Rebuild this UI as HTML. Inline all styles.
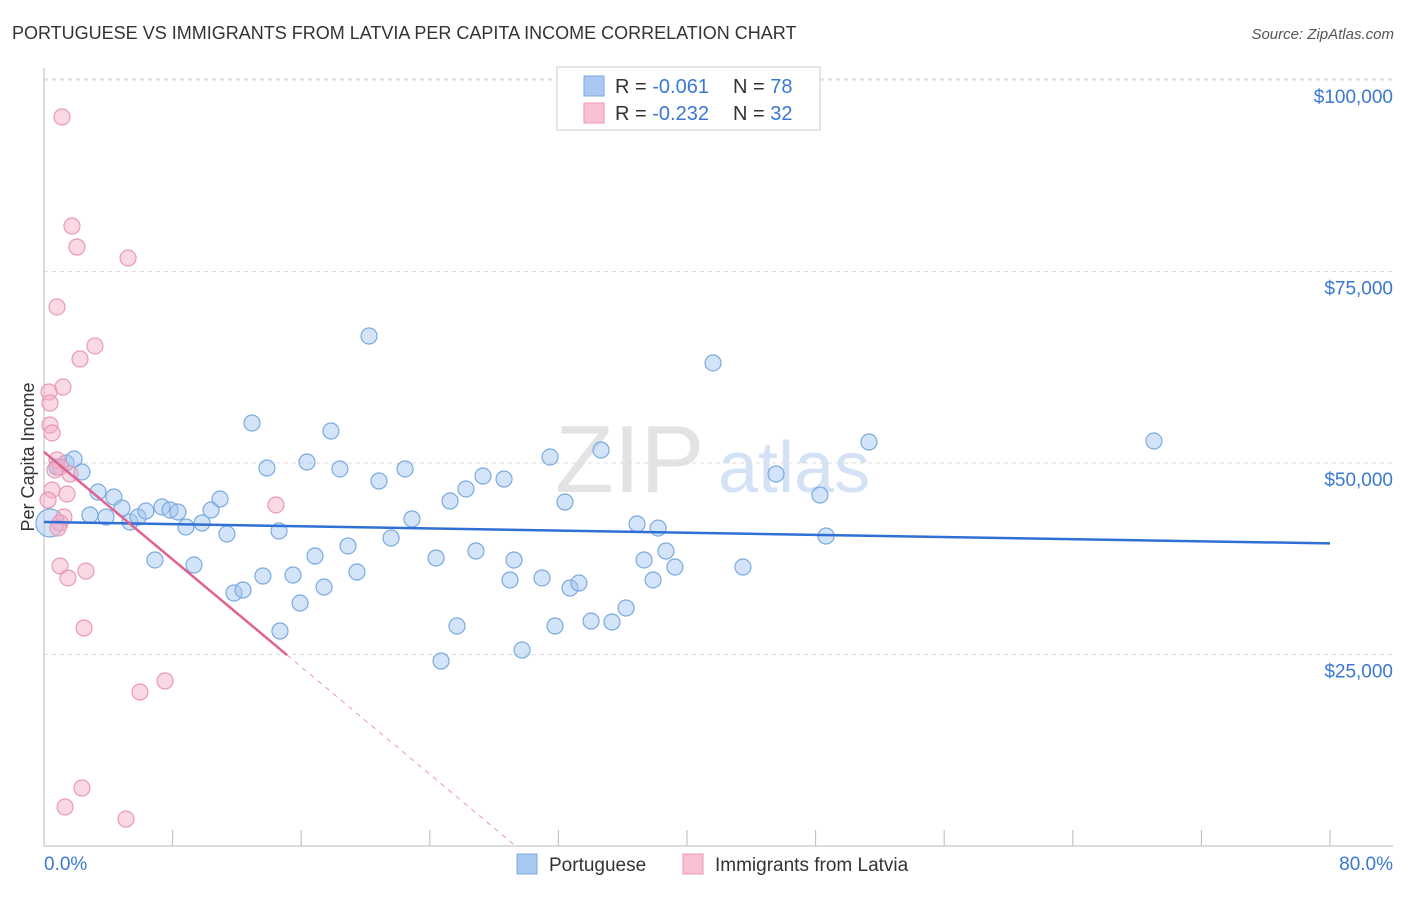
<!DOCTYPE html>
<html><head><meta charset="utf-8"><style>
body{margin:0;background:#fff;font-family:"Liberation Sans",sans-serif}
svg text{font-family:"Liberation Sans",sans-serif}
</style></head><body>
<svg id="c" width="1406" height="892"></svg>
<script>
const blueX=[0.37,0.81,1.37,1.87,2.36,2.86,3.36,3.86,4.35,4.85,5.35,5.85,6.34,6.90,7.34,7.84,8.33,8.83,9.33,9.83,10.39,10.95,11.38,11.82,12.38,12.94,13.62,13.87,14.62,14.68,15.49,15.93,16.36,16.86,17.42,17.85,18.41,18.91,19.47,20.22,20.84,21.59,22.46,22.89,24.39,24.70,25.26,25.69,26.25,26.87,27.31,28.62,28.99,29.24,29.74,30.98,31.48,31.79,32.41,32.72,33.28,34.03,34.65,35.33,36.21,36.89,37.33,37.89,38.20,38.69,39.25,41.62,43.48,45.54,48.27,48.65,51.32,69.05];
const blueY=[42170,49480,50000,50520,48830,43210,46210,42950,45560,44130,42300,42950,43730,37340,44260,43860,43600,41650,36680,42170,43860,45300,40730,33030,33420,55220,35250,49350,41120,28070,35380,31720,50130,37860,33810,54180,49220,39170,35770,66580,47650,40210,49220,42690,37600,24150,45040,28720,46610,38510,48300,47910,34730,37340,25590,34990,50780,28720,44910,33680,34330,29370,51700,29240,31070,42040,37340,34730,41510,38510,36420,63060,36420,48560,45820,40470,52740,52870];
const pinkX=[1.12,1.74,2.05,5.23,0.81,3.17,2.24,1.18,0.31,0.37,0.37,0.50,0.81,1.00,1.62,0.50,1.43,1.24,1.00,0.87,1.00,2.61,1.49,2.49,7.53,5.97,14.43,2.36,1.31,5.10,0.25,0.68];
const pinkY=[95170,80940,78200,76760,70370,65280,63580,59920,59270,57830,54960,53920,50390,49480,48560,46480,45950,42950,42170,41510,36550,35900,34990,28460,21540,20100,44520,7570,5090,3520,45170,49090];
const yTicks=[25000,50000,75000,100000];
const yTickLabels=["$25,000","$50,000","$75,000","$100,000"];
const blueTrend=[42300,39500];
const pinkTrend=[51440,24930,15.12];
const NS="http://www.w3.org/2000/svg";
const svg=document.getElementById('c');
const X=v=>44+v*16.075, Y=v=>846-v/130.55;
function el(t,a,p){const e=document.createElementNS(NS,t);for(const k in a)e.setAttribute(k,a[k]);(p||svg).appendChild(e);return e;}
let t;
t=el('text',{x:12,y:39,'font-size':18,fill:'#333'});t.textContent='PORTUGUESE VS IMMIGRANTS FROM LATVIA PER CAPITA INCOME CORRELATION CHART';

t=el('text',{x:1394,y:39,'font-size':15,fill:'#555','text-anchor':'end','font-style':'italic'});t.textContent='Source: ZipAtlas.com';

// watermark
t=el('text',{x:555,y:492,'font-size':96,fill:'#e3e3e3','font-family':'Liberation Serif'});t.textContent='ZIP';

t=el('text',{x:718,y:492,'font-size':72,fill:'#d3e3f5'});t.textContent='atlas';

// grid
el('line',{x1:44,x2:1393,y1:Y(100000)-1,y2:Y(100000)-1,stroke:'#ddd','stroke-dasharray':'4,4'});
yTicks.forEach((v,i)=>{
 const g=el('line',{x1:44,x2:1393,y1:Y(v),y2:Y(v),stroke:'#ddd','stroke-dasharray':'4,4'});
 
 const l=el('text',{x:1393,y:Y(v)+23,'font-size':19,fill:'#3a78d4','text-anchor':'end'});l.textContent=yTickLabels[i];
 
});
el('line',{x1:44,x2:44,y1:68,y2:846,stroke:'#bbb'});
el('line',{x1:44,x2:1393,y1:846,y2:846,stroke:'#bbb'});
for(let i=1;i<=10;i++){const tk=el('line',{x1:X(i*8),x2:X(i*8),y1:830,y2:846,stroke:'#bbb'});}
t=el('text',{x:44,y:870,'font-size':19,fill:'#3a78d4'});t.textContent='0.0%';
t=el('text',{x:1393,y:870,'font-size':19,fill:'#3a78d4','text-anchor':'end'});t.textContent='80.0%';
t=el('text',{x:34,y:457,'font-size':18,fill:'#333','text-anchor':'middle',transform:'rotate(-90 34 457)'});t.textContent='Per Capita Income';

// points
blueX.forEach((x,i)=>{const c=el('circle',{cx:X(x),cy:Y(blueY[i]),r:i==0?14:8,fill:'rgba(160,196,240,0.45)',stroke:'#7aaae0','stroke-width':1.2});
 });
pinkX.forEach((x,i)=>{const c=el('circle',{cx:X(x),cy:Y(pinkY[i]),r:8,fill:'rgba(245,170,195,0.45)',stroke:'#e89ab5','stroke-width':1.2});
 });
// trends
let ln=el('line',{x1:X(0),y1:Y(blueTrend[0]),x2:X(80),y2:Y(blueTrend[1]),stroke:'#2f6fd6','stroke-width':2.5});

ln=el('line',{x1:X(0),y1:Y(pinkTrend[0]),x2:X(pinkTrend[2]),y2:Y(pinkTrend[1]),stroke:'#e0628e','stroke-width':2.5});

const slope=(pinkTrend[1]-pinkTrend[0])/pinkTrend[2], x0=-pinkTrend[0]/slope;
ln=el('line',{x1:X(pinkTrend[2]),y1:Y(pinkTrend[1]),x2:X(x0),y2:Y(0),stroke:'#e89ab5','stroke-width':1,'stroke-dasharray':'5,5'});

// legend
const lg=el('g',{});
el('rect',{x:557,y:67,width:263,height:63,fill:'#fff',stroke:'#ccc'},lg);
[['#a9c9f0','#7aaae0','-0.061','78',86],['#f7c1d2','#e89ab5','-0.232','32',113]].forEach(r=>{
 el('rect',{x:584,y:r[4]-10,width:20,height:20,fill:r[0],stroke:r[1]},lg);
 const tx=el('text',{x:615,y:r[4]+7,'font-size':20,fill:'#333'},lg);
 tx.innerHTML='R = <tspan fill="#3a78d4">'+r[2]+'</tspan><tspan x="733">N = </tspan><tspan fill="#3a78d4">'+r[3]+'</tspan>';
});
const bl=el('g',{});
el('rect',{x:517,y:854,width:20,height:20,fill:'#a9c9f0',stroke:'#7aaae0'},bl);
t=el('text',{x:549,y:871,'font-size':19,fill:'#333'},bl);t.textContent='Portuguese';
el('rect',{x:683,y:854,width:20,height:20,fill:'#f7c1d2',stroke:'#e89ab5'},bl);
t=el('text',{x:715,y:871,'font-size':19,fill:'#333'},bl);t.textContent='Immigrants from Latvia';
</script>
</body></html>
